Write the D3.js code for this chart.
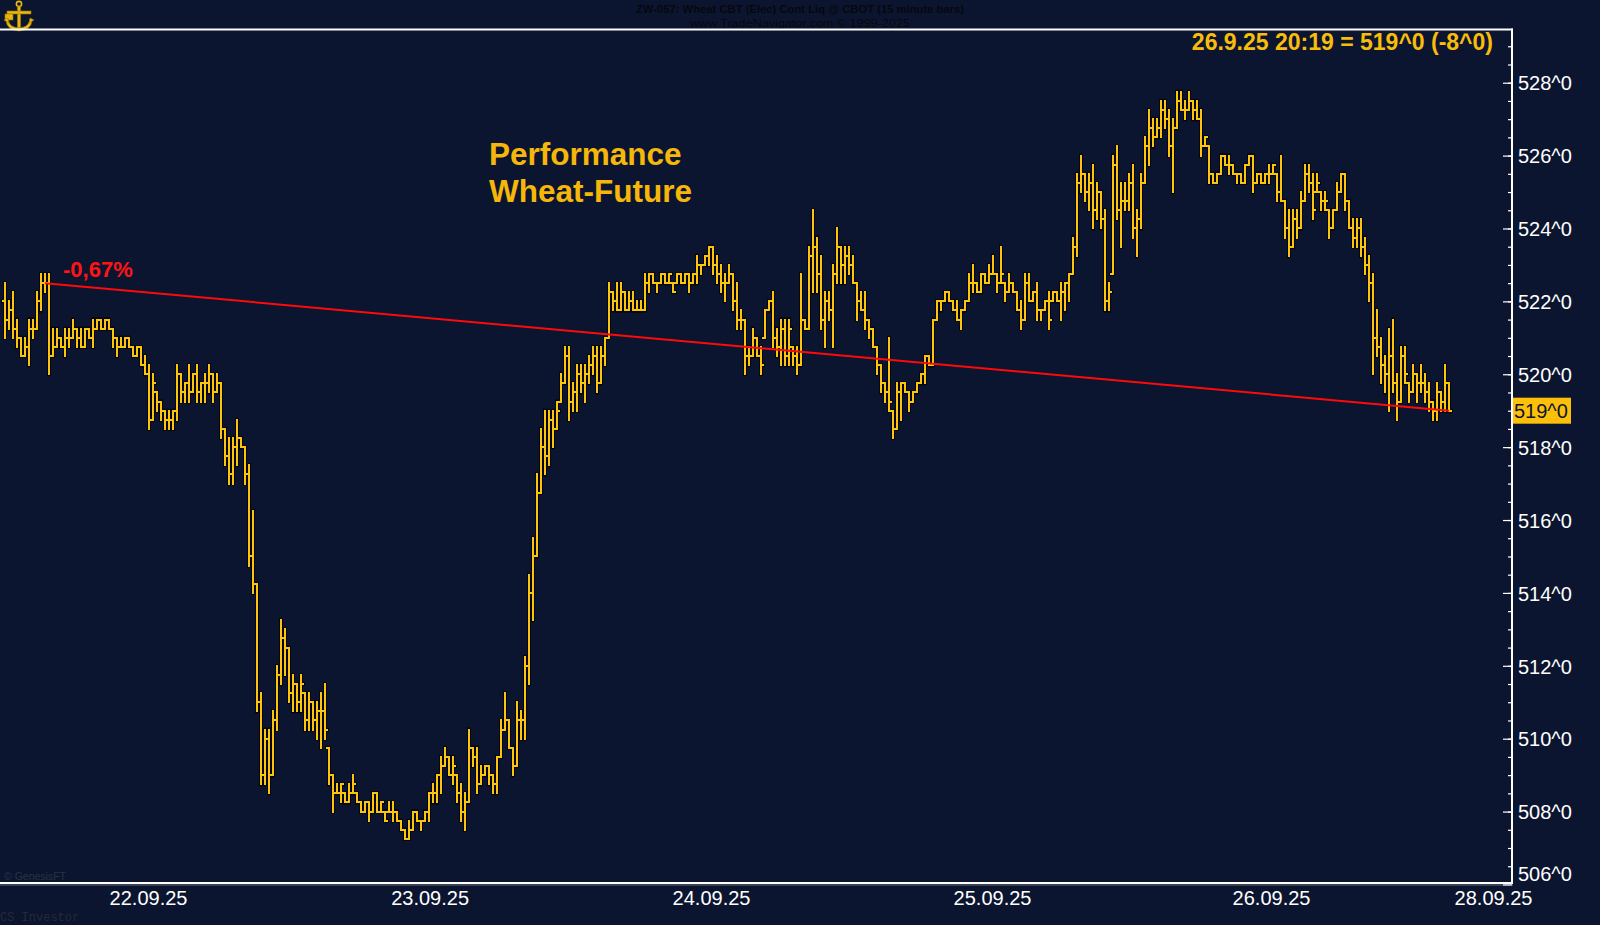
<!DOCTYPE html>
<html><head><meta charset="utf-8">
<script src="https://cdn.jsdelivr.net/npm/d3@7"></script>
<style>
html,body{margin:0;padding:0;background:#0c1530;}
svg{display:block;}
</style></head><body>
<svg id="c" width="1600" height="925"></svg>
<script>
// 15-minute OHLC bars, ZW Wheat CBT, 22.09.25 - 26.09.25
const opens = [
522.0,521.5,521.75,521.25,521.0,520.5,520.75,521.25,521.25,522.0,
522.5,522.5,520.5,520.75,521.0,520.75,521.0,521.0,521.25,521.0,
520.75,521.25,521.0,521.25,521.5,521.25,521.5,521.25,521.0,520.75,
520.75,521.0,520.75,520.5,520.75,520.25,520.0,518.75,519.5,519.25,
519.0,518.75,518.75,519.0,520.0,519.5,519.75,519.5,520.0,519.5,
519.75,519.75,520.0,519.5,519.75,518.5,517.75,517.25,518.0,518.25,
518.0,517.25,515.0,514.25,511.0,509.0,510.0,509.0,510.5,511.75,
512.75,512.5,511.25,511.5,511.0,511.25,510.5,511.0,510.5,510.75,
510.75,509.75,509.0,508.5,508.5,508.5,508.25,508.5,508.5,508.25,
508.0,508.25,508.0,508.5,508.0,508.0,508.0,508.0,508.0,507.75,
507.5,507.25,507.5,508.0,507.75,507.75,508.0,508.5,508.5,509.0,
509.25,509.5,509.0,509.0,508.5,508.0,508.25,509.75,509.5,508.75,
509.0,509.25,509.0,508.75,509.5,510.25,510.5,509.75,509.25,510.5,
510.5,512.0,514.0,515.0,516.75,518.0,517.75,518.75,518.5,519.25,
519.75,520.5,519.25,519.5,520.0,519.75,520.0,520.25,520.5,519.75,
520.5,521.0,522.25,522.0,521.75,522.25,521.75,522.0,521.75,521.75,
521.75,522.5,522.75,522.5,522.5,522.75,522.5,522.5,522.5,522.75,
522.5,522.75,522.5,522.75,523.0,523.0,523.25,523.5,523.0,522.75,
522.5,522.5,522.75,522.0,521.5,521.5,520.5,520.5,521.0,520.5,
521.0,521.75,522.0,521.0,520.75,521.25,520.5,520.75,520.5,520.25,
521.5,521.25,523.25,523.5,522.75,521.5,522.0,521.75,522.75,523.5,
523.0,523.25,523.0,522.5,522.0,521.75,521.5,521.25,520.75,520.25,
519.75,519.5,519.0,518.5,519.5,519.75,519.5,519.25,519.5,519.75,
520.0,520.5,520.25,521.5,522.0,522.0,522.25,522.0,521.75,521.5,
521.75,522.0,522.5,522.5,522.25,522.75,522.5,522.75,522.75,522.5,
522.5,522.25,522.5,522.25,521.75,521.5,522.5,522.0,522.25,521.75,
521.75,522.0,522.0,522.25,522.0,522.25,522.5,522.75,523.5,525.25,
525.5,525.0,525.25,524.5,525.0,524.25,522.0,522.75,525.75,524.5,
524.75,524.75,525.25,524.0,524.25,525.25,526.25,526.75,526.5,526.75,
527.25,527.0,526.25,526.75,527.5,527.25,527.25,527.5,527.25,527.0,
526.25,526.25,525.5,525.25,525.5,526.0,525.75,525.75,525.5,525.5,
525.25,525.75,526.0,525.25,525.5,525.25,525.5,525.5,525.5,525.0,
524.75,524.0,523.5,524.25,524.0,524.75,525.5,525.25,525.0,525.0,
524.75,524.5,524.0,524.5,525.0,525.5,524.75,524.0,523.75,524.0,
523.5,523.0,522.5,521.0,520.75,520.25,520.0,520.5,519.75,519.25,
520.5,519.75,519.5,520.0,519.75,519.75,519.5,519.25,519.0,519.5,
519.25,519.75];
const highs = [
522.5,522.0,522.25,521.5,521.0,521.0,521.5,521.5,522.25,522.75,
522.75,522.75,521.25,521.25,521.0,521.25,521.25,521.5,521.25,521.25,
521.25,521.25,521.5,521.5,521.5,521.5,521.5,521.25,521.0,521.0,
521.0,521.0,520.75,520.75,520.75,520.5,520.25,520.0,519.5,519.25,
519.0,519.0,519.0,520.25,520.0,519.75,520.25,520.0,520.25,519.75,
520.0,520.25,520.0,520.0,519.75,518.5,518.25,518.25,518.75,518.25,
518.0,517.5,516.25,514.25,511.25,510.25,510.25,510.75,512.0,513.25,
513.0,512.5,511.75,511.5,511.75,511.25,511.25,511.0,511.0,511.25,
511.5,509.75,509.0,508.75,508.75,508.5,508.75,509.0,508.5,508.25,
508.25,508.25,508.5,508.5,508.25,508.0,508.25,508.25,508.0,507.75,
507.5,507.75,508.0,508.0,507.75,508.0,508.5,508.75,509.0,509.5,
509.75,509.5,509.5,509.0,508.75,508.5,510.25,509.75,509.75,509.25,
509.25,509.25,509.0,509.5,510.5,511.25,510.5,509.75,511.0,510.75,
512.25,514.5,515.5,517.25,518.5,519.0,519.0,519.0,519.25,520.0,
520.75,520.75,519.75,520.25,520.25,520.25,520.5,520.75,520.75,520.75,
521.0,522.5,522.25,522.5,522.5,522.25,522.25,522.25,522.0,522.0,
522.75,522.75,522.75,522.5,522.75,522.75,522.75,522.5,522.75,522.75,
522.75,522.75,522.75,523.25,523.0,523.25,523.5,523.5,523.25,523.0,
522.75,523.0,522.75,522.5,521.75,521.5,520.75,521.25,521.0,520.75,
521.75,522.0,522.25,521.25,521.5,521.5,521.5,520.75,520.75,522.75,
521.5,523.5,524.5,523.75,523.25,522.25,522.25,523.0,524.0,523.5,
523.5,523.5,523.25,522.5,522.25,522.25,521.5,521.25,520.75,520.25,
519.75,521.0,519.0,519.75,519.75,519.75,519.5,519.5,519.75,520.0,
520.5,520.5,521.5,522.0,522.0,522.25,522.25,522.0,522.0,521.75,
522.0,522.75,523.0,522.5,522.75,522.75,523.0,523.25,522.75,523.5,
522.5,522.75,522.5,522.25,522.0,522.75,522.75,522.25,522.5,521.75,
522.0,522.25,522.25,522.25,522.5,522.5,522.75,523.75,525.5,526.0,
525.5,525.5,525.75,525.25,525.0,524.5,522.5,526.0,526.25,525.25,
525.25,525.5,525.75,524.5,525.5,526.5,527.25,527.0,527.0,527.5,
527.5,527.25,527.0,527.75,527.75,527.5,527.75,527.5,527.5,527.25,
526.5,526.25,525.5,525.5,526.0,526.0,526.0,525.75,525.5,525.5,
525.75,526.0,526.0,525.5,525.5,525.5,525.75,525.75,525.5,526.0,
524.75,524.5,524.5,524.5,525.0,525.75,525.75,525.5,525.5,525.0,
525.0,524.5,524.5,525.25,525.5,525.5,524.75,524.25,524.25,524.25,
523.75,523.25,522.75,521.75,521.0,520.5,521.25,521.5,520.0,520.75,
520.75,519.75,520.25,520.0,520.25,520.0,519.75,519.25,519.75,519.5,
520.25,519.75];
const lows = [
521.0,521.25,521.0,520.75,520.5,520.5,520.25,521.0,521.25,521.75,
522.25,520.0,520.5,520.75,520.75,520.5,520.75,521.0,520.75,520.75,
520.75,521.0,520.75,521.25,521.25,521.25,521.25,520.75,520.5,520.75,
520.75,520.75,520.5,520.5,520.25,520.0,518.5,518.75,519.0,518.75,
518.5,518.5,518.5,518.75,519.25,519.25,519.25,519.5,519.25,519.25,
519.25,519.5,519.25,519.5,518.25,517.5,517.0,517.0,517.5,518.0,
517.0,514.75,514.0,510.75,508.75,508.75,508.5,509.0,510.25,511.5,
511.75,511.0,510.75,510.75,510.75,510.25,510.25,510.25,510.0,509.75,
510.0,508.75,508.0,508.5,508.25,508.25,508.25,508.5,508.25,508.0,
508.0,507.75,508.0,508.0,508.0,507.75,508.0,507.75,507.75,507.5,
507.25,507.25,507.5,507.75,507.5,507.75,507.75,508.25,508.25,508.5,
509.25,509.0,508.75,508.25,507.75,507.5,508.25,509.25,508.5,508.75,
509.0,508.75,508.5,508.5,509.5,510.25,509.75,509.0,509.25,510.0,
510.0,511.5,513.25,515.0,516.75,517.25,517.5,518.0,518.5,519.25,
519.75,518.75,519.0,519.0,519.5,519.25,519.75,520.0,519.5,519.75,
520.25,521.0,521.75,521.75,521.75,521.75,521.75,521.75,521.75,521.75,
521.75,522.25,522.5,522.25,522.5,522.5,522.5,522.25,522.5,522.5,
522.5,522.25,522.5,522.5,522.75,523.0,523.0,522.75,522.5,522.25,
522.0,522.5,521.75,521.25,521.25,520.0,520.25,520.5,520.5,520.0,
521.0,521.75,520.75,520.5,520.25,520.25,520.25,520.25,520.0,520.25,
521.25,521.25,522.25,522.25,521.25,520.75,521.5,520.75,522.5,522.5,
522.5,522.75,522.5,521.5,521.75,521.25,521.0,520.75,520.0,519.5,
519.25,519.0,518.25,518.5,518.75,519.5,519.0,519.25,519.5,519.75,
519.75,520.25,520.25,521.5,521.75,522.0,522.0,521.75,521.5,521.25,
521.75,522.0,522.25,522.25,522.25,522.5,522.5,522.75,522.25,522.5,
522.0,522.25,522.25,521.75,521.25,521.5,522.0,522.0,521.5,521.5,
521.75,521.25,522.0,522.0,521.5,521.75,522.0,522.75,523.25,525.0,
524.75,524.5,524.0,524.25,524.0,521.75,521.75,522.75,524.25,523.5,
524.5,524.5,523.75,523.25,524.0,525.25,525.75,526.25,526.5,526.5,
526.75,526.0,525.0,526.75,527.25,527.0,527.25,527.0,527.0,526.0,
526.25,525.25,525.25,525.25,525.5,525.75,525.5,525.5,525.25,525.25,
525.25,525.75,525.0,525.25,525.25,525.25,525.25,525.5,524.75,524.75,
523.75,523.25,523.5,523.75,524.0,524.75,525.0,524.25,525.0,524.5,
524.5,523.75,524.0,524.5,525.0,524.5,524.0,523.5,523.5,523.25,
522.75,522.0,520.0,520.5,519.75,519.5,519.0,519.5,518.75,519.25,
519.75,519.25,519.5,519.25,519.5,519.25,519.0,518.75,518.75,519.0,
519.0,519.0];
const closes = [
521.5,521.75,521.25,521.0,520.5,520.75,521.25,521.25,522.0,522.5,
522.5,520.5,520.75,521.0,520.75,521.0,521.0,521.25,521.0,520.75,
521.25,521.0,521.25,521.5,521.25,521.5,521.25,521.0,520.75,520.75,
521.0,520.75,520.5,520.75,520.25,520.0,518.75,519.75,519.25,519.0,
518.75,518.75,519.0,520.0,519.5,519.75,519.5,520.0,519.5,519.75,
519.75,520.0,519.5,519.75,518.5,517.75,517.25,518.0,518.25,518.0,
517.25,515.0,514.25,511.0,509.0,510.0,509.0,510.5,511.75,512.75,
512.5,511.25,511.5,511.0,511.5,510.5,511.0,510.5,510.75,510.75,
510.25,509.0,508.5,508.5,508.75,508.25,508.5,508.75,508.25,508.0,
508.25,508.0,508.5,508.0,508.25,507.75,508.0,508.0,507.75,507.5,
507.25,507.5,508.0,507.75,507.75,508.0,508.5,508.5,509.0,509.25,
509.5,509.0,509.25,508.5,508.0,508.25,509.75,509.5,508.75,509.0,
509.25,509.0,508.75,509.5,510.25,510.5,509.75,509.25,510.5,510.5,
512.0,514.0,515.0,516.75,518.0,517.75,518.75,518.5,519.0,519.75,
520.5,519.25,519.5,520.0,519.75,520.0,520.25,520.5,519.75,520.5,
521.0,522.25,522.0,521.75,522.25,521.75,522.0,521.75,521.75,521.75,
522.5,522.75,522.5,522.5,522.75,522.5,522.75,522.25,522.75,522.5,
522.75,522.5,522.75,523.0,523.0,523.25,523.5,523.0,522.75,522.5,
522.5,522.75,522.0,521.5,521.5,520.5,520.5,521.0,520.5,520.25,
521.75,522.0,521.0,520.75,521.25,520.5,521.25,520.5,520.25,521.5,
521.25,523.25,523.5,522.75,521.5,522.0,521.75,522.75,523.5,523.0,
523.25,523.0,522.5,522.0,521.75,521.5,521.25,520.75,520.25,519.75,
519.5,519.25,518.5,519.5,519.75,519.5,519.25,519.5,519.75,520.0,
520.5,520.25,521.5,522.0,522.0,522.25,522.0,521.75,521.5,521.75,
522.0,522.5,522.5,522.25,522.75,522.5,522.75,522.75,522.5,522.75,
522.25,522.5,522.25,521.75,521.5,522.5,522.0,522.25,521.75,521.75,
522.0,521.5,522.25,522.0,522.25,522.5,522.75,523.5,525.25,525.5,
525.0,525.25,524.5,525.0,524.25,522.0,522.25,525.75,524.5,524.75,
524.75,525.25,524.0,524.25,525.25,526.25,526.75,526.5,526.75,527.25,
527.0,526.25,526.75,527.5,527.25,527.25,527.5,527.25,527.0,526.25,
526.5,525.5,525.25,525.5,526.0,525.75,525.75,525.5,525.5,525.25,
525.75,526.0,525.25,525.5,525.25,525.5,525.5,525.75,525.0,524.75,
524.0,523.5,524.25,524.0,524.75,525.5,525.25,524.5,525.25,524.75,
524.75,524.0,524.5,525.0,525.5,524.75,524.0,523.75,524.0,523.5,
523.0,522.5,521.0,520.75,520.25,520.0,520.5,519.75,519.25,520.5,
520.0,519.5,520.0,519.75,519.75,519.5,519.25,519.0,519.5,519.25,
519.75,519.0];

// x-axis date labels and the bar position at which each is drawn
const dateLabels = ["22.09.25","23.09.25","24.09.25","25.09.25","26.09.25","28.09.25"];
const dateLabelBar = [35.75, 106.15, 176.5, 246.75, 316.5, 372];
// y-axis tick labels
const yMajorTicks = [506,508,510,512,514,516,518,520,522,524,526,528];
// performance trend line (from bar 10 close to last close)
const trendBars = [10, 361];
const trendPrices = [522.5, 519.0];
const lastLabel = "26.9.25 20:19 = 519^0 (-8^0)";
const perfLabel = "-0,67%";

const W = 1600, H = 925;
const plot = {left: 0, right: 1512, top: 29.5, bottom: 883};
const FONT = "'Liberation Sans', Arial, sans-serif";
const GOLD = "#fcc50c";

const svg = d3.select("#c");
svg.append("rect").attr("width", W).attr("height", H).attr("fill", "#0c1530");

const x = d3.scaleLinear().domain([0, closes.length - 1]).range([5, 1449]);
const y = d3.scaleLinear().domain([506.04, 529.46]).range([plot.bottom, plot.top]);

// header
svg.append("text").attr("x", 800).attr("y", 13).attr("text-anchor", "middle")
  .attr("font-family", "'Liberation Sans Narrow', 'Arial Narrow', 'Liberation Sans', sans-serif")
  .attr("font-weight", "bold").attr("font-size", 11.5).attr("fill", "#06080e")
  .attr("textLength", 328).attr("lengthAdjust", "spacingAndGlyphs")
  .text("ZW-057:  Wheat CBT (Elec) Cont Liq @ CBOT  (15 minute bars)");
svg.append("text").attr("x", 800).attr("y", 26.5).attr("text-anchor", "middle")
  .attr("font-family", "'Liberation Sans Narrow', 'Arial Narrow', 'Liberation Sans', sans-serif")
  .attr("font-size", 11.5).attr("fill", "#06080e")
  .attr("textLength", 220).attr("lengthAdjust", "spacingAndGlyphs")
  .text("www.TradeNavigator.com © 1999-2025");

// anchor logo
const logo = svg.append("g").attr("transform", "translate(19,17)").attr("fill", "#e8b610").attr("stroke", "#9a7400").attr("stroke-width", 0.6);
logo.append("circle").attr("cx", 0).attr("cy", -13).attr("r", 2.6).attr("fill", "none").attr("stroke", "#e8b610").attr("stroke-width", 1.6);
logo.append("rect").attr("x", -1.6).attr("y", -11).attr("width", 3.2).attr("height", 22);
logo.append("rect").attr("x", -12).attr("y", -6).attr("width", 24).attr("height", 3);
logo.append("rect").attr("x", -14).attr("y", -3).attr("width", 8).attr("height", 6);
logo.append("path").attr("d", "M-13,4 Q-12,13 0,14 Q12,13 13,4 L10,5 Q9,10 0,11 Q-9,10 -10,5 Z");
logo.append("path").attr("d", "M-15,3 L-11,1 L-10,6 Z M15,3 L11,1 L10,6 Z");

// frame
svg.append("line").attr("x1", 0).attr("x2", plot.right + 1).attr("y1", plot.top).attr("y2", plot.top)
  .attr("stroke", "#ffffff").attr("stroke-width", 2);
svg.append("line").attr("x1", 0).attr("x2", plot.right + 1).attr("y1", plot.bottom).attr("y2", plot.bottom)
  .attr("stroke", "#ffffff").attr("stroke-width", 2);
svg.append("line").attr("x1", 0).attr("x2", plot.right + 1).attr("y1", plot.bottom + 2).attr("y2", plot.bottom + 2)
  .attr("stroke", "#6b6f7a").attr("stroke-width", 1);

// y axis (right side, ticks pointing inward)
const yAxisMinor = d3.axisRight(y).tickValues(d3.range(506.5, 529.01, 0.5)).tickSize(-4).tickSizeOuter(0).tickFormat("");
const gMinor = svg.append("g").attr("transform", `translate(${plot.right},0)`).call(yAxisMinor);
gMinor.select(".domain").remove();
gMinor.selectAll("line").attr("stroke", "#ffffff").attr("stroke-width", 1.2);

const yAxis = d3.axisRight(y).tickValues(yMajorTicks).tickSize(-9).tickSizeOuter(0).tickPadding(6)
  .tickFormat(d => d + "^0");
const gY = svg.append("g").attr("transform", `translate(${plot.right},0)`).call(yAxis);
gY.select(".domain").remove();
gY.selectAll("line").attr("stroke", "#ffffff").attr("stroke-width", 1.2);
gY.selectAll("text").attr("fill", "#ffffff").attr("font-family", FONT).attr("font-size", 20)
  .attr("dy", "0.36em")
  .attr("y", d => Math.min(0, (plot.bottom - 10) - y(d)));
svg.append("line").attr("x1", plot.right).attr("x2", plot.right).attr("y1", plot.top - 1).attr("y2", plot.bottom + 1)
  .attr("stroke", "#ffffff").attr("stroke-width", 2);

// x axis
const xAxis = d3.axisBottom(x).tickValues(dateLabelBar).tickSize(0).tickPadding(8)
  .tickFormat((d, i) => dateLabels[i]);
const gX = svg.append("g").attr("transform", `translate(0,${plot.bottom})`).call(xAxis);
gX.select(".domain").remove();
gX.selectAll("text").attr("fill", "#ffffff").attr("font-family", FONT).attr("font-size", 20);

// bars
const bars = closes.map((c, i) => ({i, o: opens[i], h: highs[i], l: lows[i], c}));
const barPath = d => {
  const cx = Math.round(x(d.i));
  return `M${cx},${y(d.h)}V${y(d.l)}M${cx - 2},${y(d.o)}H${cx}M${cx},${y(d.c)}H${cx + 2}`;
};
const gBars = svg.append("g");
gBars.selectAll("path.outline").data(bars).join("path").attr("class", "outline")
  .attr("d", barPath).attr("fill", "none").attr("stroke", "#03060d").attr("stroke-width", 4)
  .attr("stroke-linecap", "square");
gBars.selectAll("path.bar").data(bars).join("path").attr("class", "bar")
  .attr("d", barPath).attr("fill", "none").attr("stroke", GOLD).attr("stroke-width", 2)
  .attr("stroke-linecap", "square").attr("shape-rendering", "crispEdges");

// trend line
svg.append("line")
  .attr("x1", x(trendBars[0])).attr("y1", y(trendPrices[0]))
  .attr("x2", x(trendBars[1])).attr("y2", y(trendPrices[1]))
  .attr("stroke", "#ff0a0a").attr("stroke-width", 2);

// last price marker on the axis
const lastPrice = closes[closes.length - 1];
svg.append("rect").attr("x", plot.right + 1).attr("y", y(lastPrice) - 13).attr("width", 58).attr("height", 26)
  .attr("fill", "#fcc00a");
svg.append("text").attr("x", plot.right + 2).attr("y", y(lastPrice)).attr("dy", "0.36em")
  .attr("font-family", FONT).attr("font-size", 20).attr("fill", "#0c1530").text(lastPrice + "^0");

// labels
svg.append("text").attr("x", 1493).attr("y", 50).attr("text-anchor", "end")
  .attr("font-family", FONT).attr("font-weight", "bold").attr("font-size", 23).attr("fill", "#f8bd0a")
  .text(lastLabel);
svg.append("text").attr("x", 63).attr("y", 277)
  .attr("font-family", FONT).attr("font-weight", "bold").attr("font-size", 22).attr("fill", "#ff1414")
  .text(perfLabel);
const perf = svg.append("text").attr("font-family", FONT).attr("font-weight", "bold").attr("font-size", 31.5)
  .attr("fill", "#f5b70a");
perf.append("tspan").attr("x", 489).attr("y", 165).text("Performance");
perf.append("tspan").attr("x", 489).attr("y", 202).text("Wheat-Future");

// footers
svg.append("text").attr("x", 4).attr("y", 880).attr("font-family", FONT).attr("font-size", 10.5)
  .attr("fill", "#2a3142").text("© GenesisFT");
svg.append("text").attr("x", 0).attr("y", 921).attr("font-family", "'Liberation Mono', 'Courier New', monospace")
  .attr("font-size", 12).attr("fill", "#232a38").text("CS Investor");
</script>
</body></html>
